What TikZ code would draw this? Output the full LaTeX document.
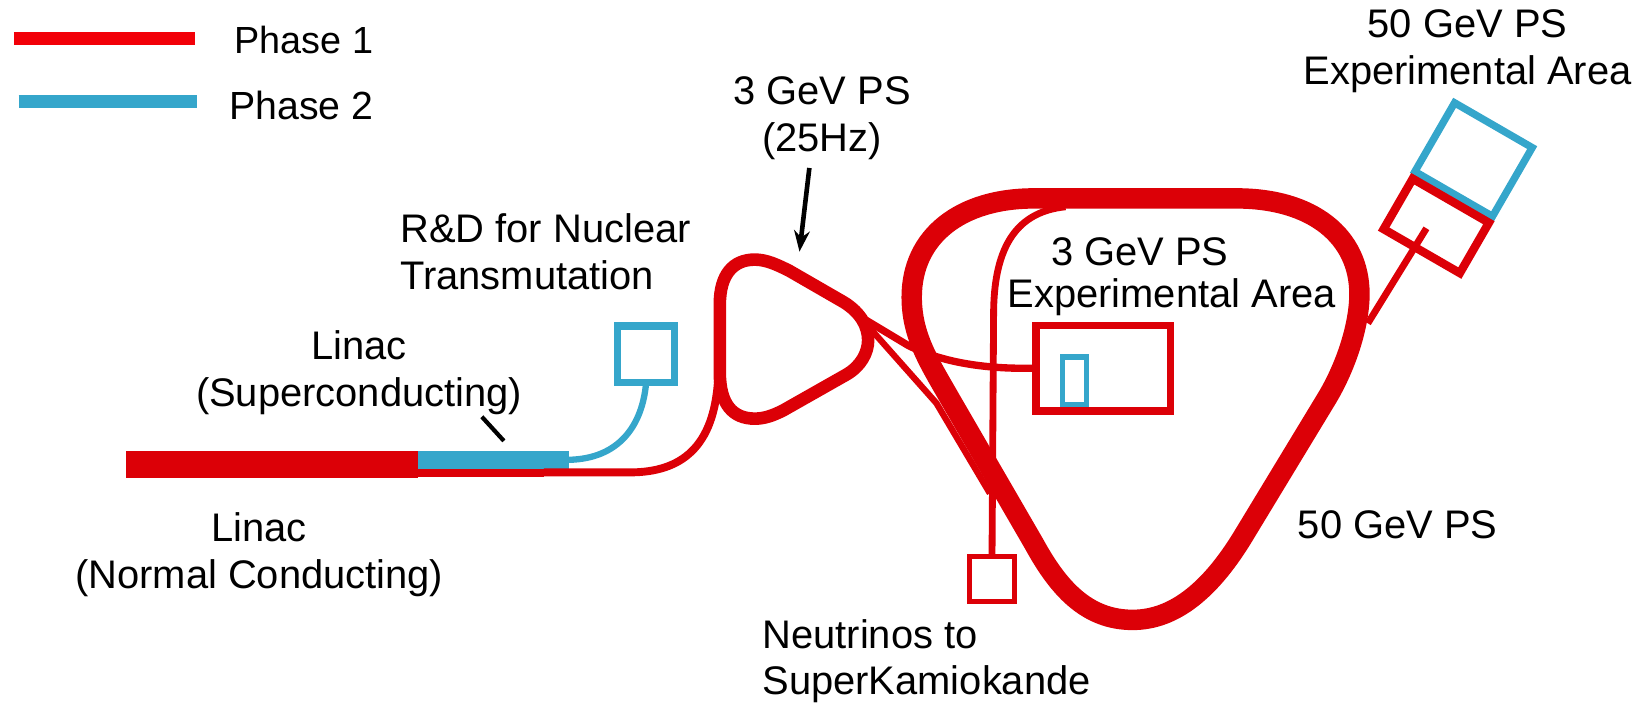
\documentclass[tikz,border=0pt]{standalone}
\usepackage{fontspec}
\setmainfont{Liberation Sans}
\usetikzlibrary{arrows.meta}
\definecolor{phaseone}{HTML}{DC0007}
\definecolor{legendred}{HTML}{F20008}
\definecolor{phasetwo}{HTML}{35A6CB}
\tikzset{
  lbl/.style={inner sep=0pt,align=center,font=\fontsize{19pt}{22.4pt}\selectfont,text=black},
  boxred/.style={draw=phaseone,inner sep=0pt,outer sep=0pt,fill=none},
  boxblue/.style={draw=phasetwo,inner sep=0pt,outer sep=0pt,fill=none},
  beam/.style={draw=phaseone,line width=#1*0.5pt},
  bluebeam/.style={draw=phasetwo,line width=#1*0.5pt},
  barred/.style={fill=phaseone,inner sep=0pt,outer sep=0pt},
  barblue/.style={fill=phasetwo,inner sep=0pt,outer sep=0pt}
}
\begin{document}
\begin{tikzpicture}[x=0.5pt,y=-0.5pt]
\useasboundingbox (0,0) rectangle (1568,670);
% legend
\coordinate (l1a) at (13.3,36.8); \coordinate (l1b) at (185.7,36.8);
\coordinate (l2a) at (17.8,96.5); \coordinate (l2b) at (188,96.5);
\draw[draw=legendred,line width=6pt] (l1a) -- (l1b);
\draw[bluebeam=12] (l2a) -- (l2b);
\node[lbl,anchor=base west,font=\fontsize{18pt}{22pt}\selectfont] (p1) at (223,50.8) {Phase 1};
\node[lbl,anchor=base west,font=\fontsize{18.7pt}{22pt}\selectfont] (p2) at (218,114.3) {Phase 2};
% linac
\node[barred,minimum width=139pt,minimum height=12.5pt] (nc) at (259,442.5) {};
\node[barred,minimum width=80pt,minimum height=4pt] (scred) at (438,450) {};
\node[barblue,minimum width=72pt,minimum height=8.5pt] (sc) at (470,438) {};
% rnd box
\node[boxblue,line width=3.5pt,minimum width=27pt,minimum height=27pt] (rd) at (615.5,337.5) {};
\draw[bluebeam=6] (rd.south) .. controls (612,405) and (590,437) .. (sc.east);
% injection
\coordinate (inj) at (684,362);
\draw[beam=7.5] (scred.east) -- (600,450) .. controls (650,450) and (680,425) .. (inj);
% 3 GeV ring
\draw[beam=12] (685.7,290) .. controls (685.7,262) and (698,247.3) .. (719,247.3)
  .. controls (730,247.3) and (740,252) .. (752,258) -- (804,288)
  .. controls (820,298) and (827,311) .. (827,324)
  .. controls (827,336) and (820,349) .. (806,357) -- (746,391)
  .. controls (736,396) and (728,398.8) .. (719,398.8)
  .. controls (698,398.8) and (685.7,385) .. (685.7,355) -- cycle;
% boxes
\node[boxred,line width=3.5pt,minimum width=64pt,minimum height=40.75pt] (gev3) at (1051,350.7) {};
\node[boxblue,line width=2.5pt,minimum width=11.5pt,minimum height=22.75pt] (mini) at (1023.5,362.8) {};
\node[boxred,line width=2.25pt,minimum width=21.75pt,minimum height=21.7pt] (nu) at (945,551.5) {};
% extraction lines
\coordinate (apexa) at (825,305);
\coordinate (apexb) at (829,313);
\coordinate (merge) at (943,470);
\coordinate (topj) at (1015,197);
\draw[beam=7] (apexa) -- (865,329) .. controls (895,344) and (935,352) .. (gev3.west);
\draw[beam=6] (apexb) -- (892,384) -- (merge);
\draw[beam=6.5] (nu.north) -- (946.5,300) .. controls (946.5,240) and (965,202) .. (topj);
% 50 GeV ring
\draw[beam=19.5] (868.5,283) .. controls (868.5,225) and (915,189) .. (985,189) -- (1178,189)
  .. controls (1250,189) and (1295,225) .. (1295,280)
  .. controls (1295,310) and (1282,350) .. (1263,381) -- (1186,508)
  .. controls (1155,560) and (1120,590.5) .. (1079,590.5)
  .. controls (1035,590.5) and (1008,560) .. (985,518) -- (905,380)
  .. controls (885,345) and (868.5,320) .. (868.5,283) -- cycle;
% 50 GeV area
\node[boxblue,line width=3.5pt,minimum width=42.7pt,minimum height=37.8pt,rotate=-30] (area2) at (1403.7,152) {};
\node[boxred,line width=4pt,minimum width=41.9pt,minimum height=27.7pt,rotate=-30] (area1) at (1368.2,215.2) {};
\coordinate (stub) at (1358.8,217.5);
\coordinate (ringj) at (1303,308);
\draw[beam=6.5] (ringj) -- (stub);
% pointers
\coordinate (tickA) at (459,397); \coordinate (tickB) at (480,420);
\coordinate (arrA) at (771,160); \coordinate (arrB) at (761.6,239.7);
\draw[line width=2pt,black] (tickA) -- (tickB);
\draw[line width=2.2pt,black,-{Stealth[length=10pt,width=7.5pt]}] (arrA) -- (arrB);
% labels
\node[lbl] (t50a) at (1398,48.75) {50 GeV PS\\Experimental Area};
\node[lbl] (t3) at (783,112.5) {3 GeV PS\\(25Hz)};
\node[lbl,align=left,anchor=west] (trd) at (381,240) {R\&D for Nuclear\\Transmutation};
\node[lbl] (tsc) at (342,355) {Linac\\(Superconducting)};
\node[lbl] (tnc) at (247,528.5) {Linac\\(Normal Conducting)};
\node[lbl,align=left,anchor=west,font=\fontsize{19pt}{19.8pt}\selectfont] (t3e) at (959.5,263.8) {\hspace*{20.7pt}3 GeV PS\\Experimental Area};
\node[lbl,anchor=base west] (t50) at (1236,512.7) {50 GeV PS};
\node[lbl,align=left,anchor=west,font=\fontsize{19pt}{21.8pt}\selectfont] (tnu) at (726,630) {Neutrinos to\\SuperKamiokande};
\end{tikzpicture}
\end{document}
